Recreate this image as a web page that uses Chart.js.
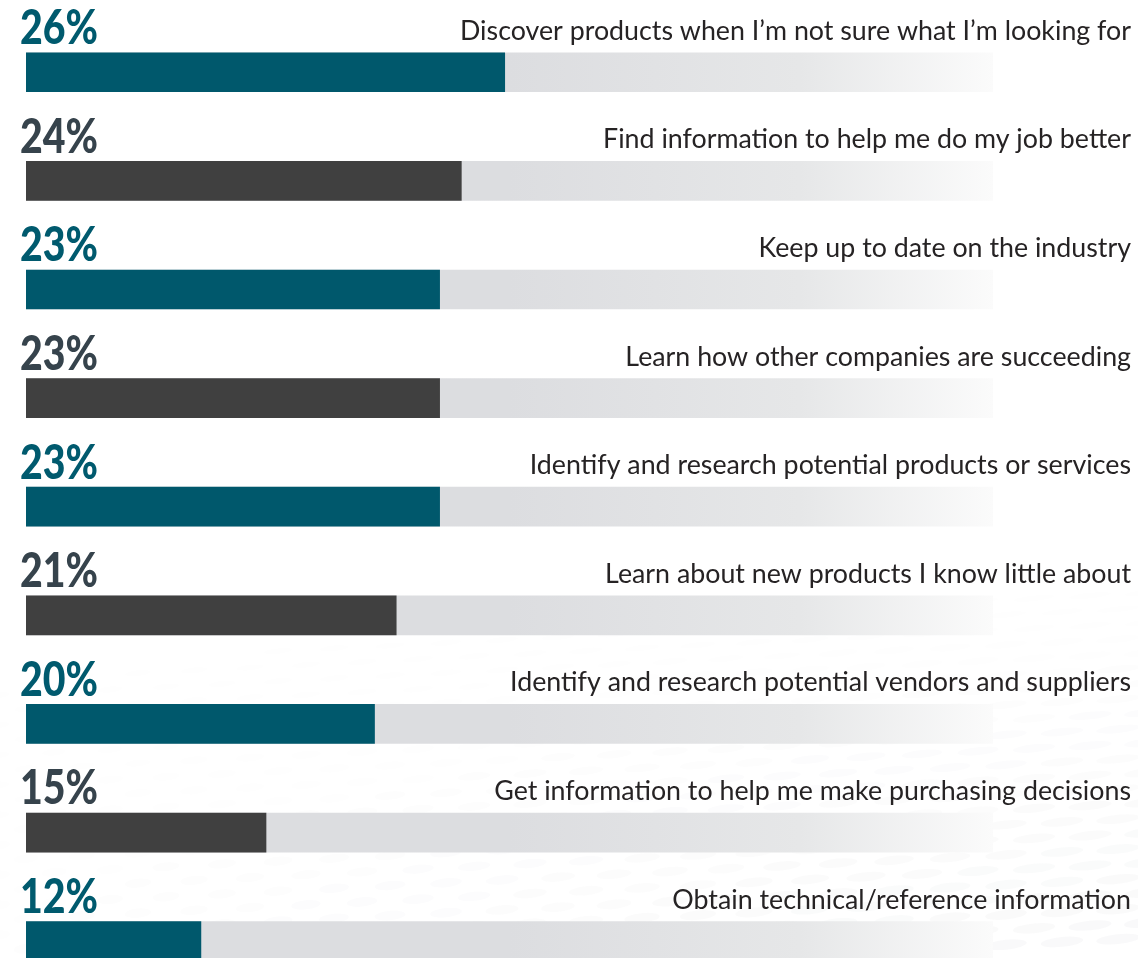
<!DOCTYPE html>
<html>
<head>
<meta charset="utf-8">
<script src="https://cdn.jsdelivr.net/npm/chart.js@4.4.1/dist/chart.umd.min.js"></script>
<style>
  html, body { margin: 0; padding: 0; background: #ffffff; overflow: hidden; }
  #wrap { position: relative; width: 1138px; height: 1000px; }
</style>
</head>
<body>
<div id="wrap"><canvas id="chart"></canvas></div>
<script>
// Reasons for using the content, share of respondents (%)
const categories = [
  "Discover products when I\u2019m not sure what I\u2019m looking for",
  "Find information to help me do my job better",
  "Keep up to date on the industry",
  "Learn how other companies are succeeding",
  "Identify and research potential products or services",
  "Learn about new products I know little about",
  "Identify and research potential vendors and suppliers",
  "Get information to help me make purchasing decisions",
  "Obtain technical/reference information"
];
const shares = [26, 24, 23, 23, 23, 21, 20, 15, 12];
const valueLabels = shares.map(v => v + "%");

// value range covered by the grey track behind each bar
const AXIS_MIN = 3.94;
const AXIS_MAX = 48.5;
const trackValues = categories.map(() => AXIS_MAX);

const TEAL = "#00586c";
const DARK = "#404040";
const TEAL_TEXT = "#005a6e";
const DARK_TEXT = "#36434c";
const barColors = shares.map((_, i) => i % 2 === 0 ? TEAL : DARK);
const textColors = shares.map((_, i) => i % 2 === 0 ? TEAL_TEXT : DARK_TEXT);

// faint dashed wave texture in the lower part of the page
const texturePlugin = {
  id: "texture",
  beforeDraw(chart) {
    const ctx = chart.ctx;
    ctx.save();
    let row = 0;
    for (let y = 620; y < 1010; y += 15, row++) {
      const t = (y - 620) / 380;
      for (let x = -30 + (row % 2) * 28; x < 1170; x += 56) {
        const r = Math.min(1, Math.max(0, x / 1138));
        const a = 0.032 * t * (0.35 + 0.8 * r);
        if (a <= 0.002) continue;
        ctx.fillStyle = "rgba(90,95,100," + a.toFixed(4) + ")";
        ctx.beginPath();
        const yy = y - x * 0.05;
        ctx.ellipse(x, yy, 12 + 10 * r, 3 + 2 * t, -0.1, 0, Math.PI * 2);
        ctx.fill();
      }
    }
    ctx.restore();
  }
};

// percentage and category captions above each bar
const captionPlugin = {
  id: "captions",
  afterDatasetsDraw(chart) {
    const ctx = chart.ctx;
    const meta = chart.getDatasetMeta(1);
    const pctFont = "900 47px Lato";
    const catFont = "26px Lato";
    ctx.save();
    ctx.textBaseline = "alphabetic";

    ctx.font = pctFont;
    const pctScale = 78 / ctx.measureText("26%").width;
    ctx.font = catFont;
    const catScale = 671 / ctx.measureText(categories[0]).width;

    meta.data.forEach((bar, i) => {
      const top = bar.y - bar.height / 2;
      // value label, left
      ctx.save();
      ctx.font = pctFont;
      ctx.fillStyle = textColors[i];
      ctx.textAlign = "left";
      ctx.translate(20, top - 8.7);
      ctx.scale(pctScale, 1);
      ctx.fillText(valueLabels[i], 0, 0);
      ctx.restore();
      // category label, right
      ctx.save();
      ctx.font = catFont;
      ctx.fillStyle = "#262324";
      ctx.textAlign = "right";
      ctx.translate(1131, top - 13);
      ctx.scale(catScale, 1);
      ctx.fillText(categories[i], 0, 0);
      ctx.restore();
    });
    ctx.restore();
  }
};

function trackGradient(context) {
  const { ctx, chartArea } = context.chart;
  if (!chartArea) return "#dcdde0";
  const g = ctx.createLinearGradient(chartArea.left, 0, chartArea.right, 0);
  g.addColorStop(0, "#dcdde0");
  g.addColorStop(0.5, "#dcdde0");
  g.addColorStop(0.8, "#e6e7e8");
  g.addColorStop(1, "#fbfbfb");
  return g;
}

new Chart(document.getElementById("chart"), {
  type: "bar",
  data: {
    labels: categories,
    datasets: [
      {
        label: "track",
        data: trackValues,
        backgroundColor: trackGradient,
        barThickness: 39,
        grouped: false,
        order: 2
      },
      {
        label: "share",
        data: shares,
        backgroundColor: barColors,
        barThickness: 39,
        grouped: false,
        order: 1
      }
    ]
  },
  options: {
    indexAxis: "y",
    responsive: true,
    maintainAspectRatio: false,
    animation: false,
    layout: { padding: { left: 26, right: 145, top: 17.9, bottom: 4.5 } },
    scales: {
      x: { display: false, min: AXIS_MIN, max: AXIS_MAX },
      y: { display: false, offset: true }
    },
    plugins: {
      legend: { display: false },
      tooltip: { enabled: false }
    }
  },
  plugins: [texturePlugin, captionPlugin]
});
</script>
</body>
</html>
